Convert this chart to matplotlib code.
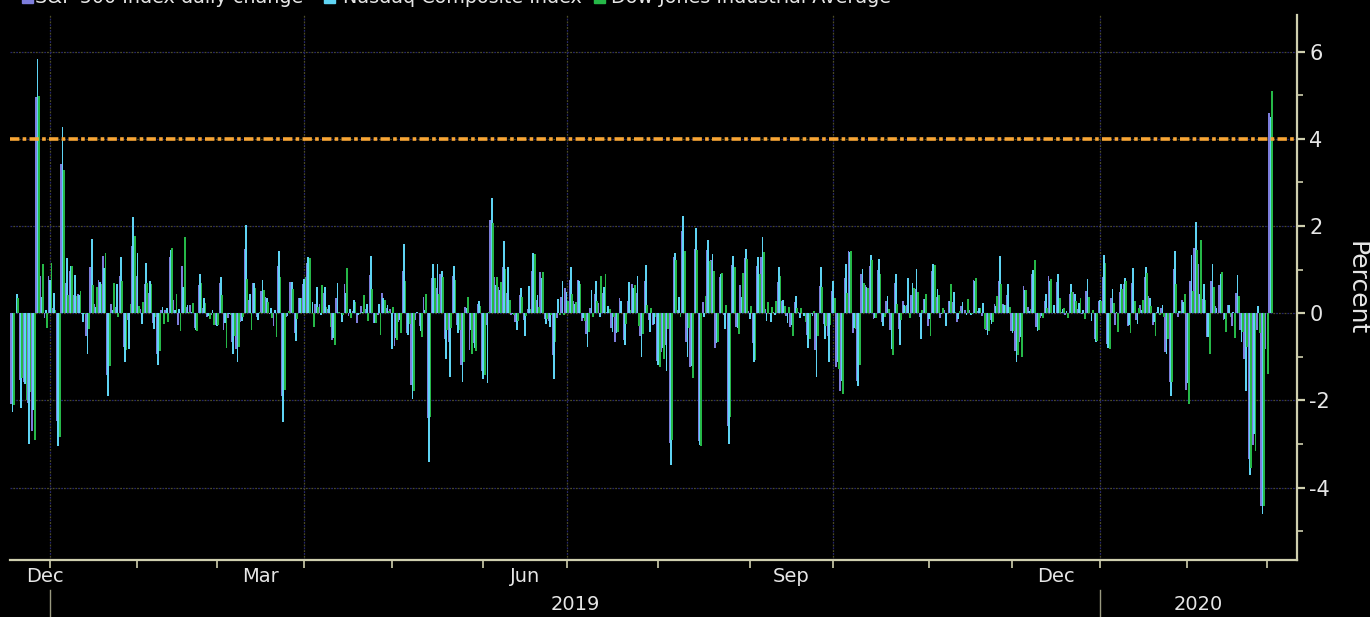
#!/usr/bin/env python3
"""Daily % change of S&P 500, Nasdaq Composite and Dow, Dec 2018 - Mar 2020 (Bloomberg-style)."""

import matplotlib

matplotlib.use("Agg")
import matplotlib.pyplot as plt
import matplotlib.transforms as mtransforms
from matplotlib.patches import Rectangle
import numpy as np
import pandas as pd

START = "2018-12-17"
END = "2020-03-02"
HOLIDAYS = [
    "2018-12-25", "2019-01-01", "2019-01-21", "2019-02-18", "2019-04-19",
    "2019-05-27", "2019-07-04", "2019-09-02", "2019-11-28", "2019-12-25",
    "2020-01-01", "2020-01-20", "2020-02-17",
]

# daily % change, one line per month
SPX = [
    -2.08, 0.01, -1.54, -1.58, -2.06, -2.71, 4.96, 0.86, -0.12, 0.85,
    0.13, -2.48, 3.43, 0.70, 0.97, 0.41, 0.45, -0.01, -0.53, 1.07, 0.22, 0.76, 1.32, -1.42, 0.22, 0.14, 0.85, -0.78, -0.15, 1.55, 0.86,
    0.09, 0.68, 0.47, -0.22, -0.94, 0.07, 0.07, 1.29, 0.30, -0.27, 1.09, 0.15, 0.18, -0.35, 0.64, 0.12, -0.08, -0.05, -0.28,
    0.69, -0.39, -0.11, -0.65, -0.81, -0.21, 1.47, 0.30, 0.69, -0.09, 0.50, 0.37, -0.01, -0.29, 1.09, -1.90, -0.08, 0.72, -0.46, 0.36, 0.67,
    1.16, 0.00, 0.21, 0.21, 0.46, 0.10, -0.61, 0.35, 0.00, 0.66, -0.06, 0.05, -0.23, 0.16, 0.10, 0.88, -0.22, -0.04, 0.47, 0.11, 0.10,
    -0.75, -0.21, 0.96, -0.45, -1.65, -0.16, -0.30, 0.37, -2.41, 0.80, 0.58, 0.89, -0.58, -0.67, 0.85, -0.28, -1.19, 0.14, -0.84, -0.69, 0.21, -1.32,
    -0.28, 2.14, 0.82, 0.61, 1.05, 0.47, -0.03, -0.20, 0.41, -0.16, 0.09, 0.97, 0.30, 0.95, -0.13, -0.17, -0.95, -0.12, 0.38, 0.58,
    0.77, 0.29, 0.77, -0.18, -0.48, 0.12, 0.45, 0.23, 0.46, 0.02, -0.34, -0.65, 0.36, -0.62, 0.28, 0.68, 0.47, -0.53, 0.74, -0.16, -0.26, -1.09,
    -0.90, -0.73, -2.98, 1.30, 0.08, 1.88, -0.66, -1.23, 1.48, -2.93, 0.25, 1.44, 1.21, -0.79, 0.82, -0.05, -2.59, 1.10, -0.32, 0.65, 1.27, 0.06,
    -0.69, 1.08, 1.30, 0.09, -0.01, 0.03, 0.72, 0.29, -0.07, -0.31, 0.26, 0.03, 0.00, -0.49, -0.01, -0.84, 0.62, -0.24, -0.53, 0.50,
    -1.23, -1.79, 0.80, 1.42, -0.45, -1.56, 0.91, 0.64, 1.09, -0.14, 1.00, -0.20, 0.28, -0.39, 0.69, -0.36, 0.28, 0.19, 0.41, 0.56, -0.08, 0.33, -0.30,
    0.97, 0.37, -0.12, 0.07, 0.27, 0.26, -0.20, 0.16, 0.07, 0.08, 0.77, 0.05, -0.06, -0.38, -0.16, 0.22, 0.75, 0.22, 0.42, -0.40,
    -0.86, -0.66, 0.63, 0.15, 0.91, -0.32, -0.11, 0.29, 0.86, 0.01, 0.71, 0.03, -0.04, 0.45, 0.49, 0.09, -0.02, 0.51, 0.00, -0.58, 0.29,
    0.84, -0.71, 0.35, -0.28, 0.49, 0.67, -0.29, 0.70, -0.15, 0.19, 0.84, 0.39, -0.27, 0.03, 0.11, -0.90, -1.57, 1.01, -0.09, 0.31, -1.77,
    0.73, 1.50, 1.13, 0.33, -0.54, 0.73, 0.17, 0.65, -0.16, 0.18, -0.29, 0.47, -0.38, -1.05, -3.35, -3.03, -0.38, -4.42, -0.82,
    4.60,
]
NASDAQ = [
    -2.27, 0.45, -2.17, -1.63, -2.99, -2.21, 5.84, 0.38, 0.08, 0.77,
    0.46, -3.04, 4.26, 1.26, 1.08, 0.87, 0.42, -0.21, -0.94, 1.71, 0.15, 0.71, 1.03, -1.91, 0.08, 0.68, 1.29, -1.11, -0.81, 2.20, 1.37,
    -0.25, 1.15, 0.74, -0.36, -1.18, 0.14, 0.13, 1.46, 0.08, 0.09, 0.61, 0.19, 0.03, -0.39, 0.91, 0.36, -0.07, 0.07, -0.29,
    0.83, -0.23, -0.02, -0.93, -1.13, -0.18, 2.02, 0.44, 0.69, -0.16, 0.76, 0.34, 0.12, 0.07, 1.42, -2.50, -0.07, 0.71, -0.63, 0.34, 0.78,
    1.29, 0.25, 0.60, -0.05, 0.59, 0.19, -0.56, 0.69, -0.21, 0.46, 0.10, 0.30, -0.05, 0.02, 0.22, 1.32, -0.23, 0.21, 0.34, 0.19, -0.81,
    -0.57, -0.16, 1.58, -0.50, -1.96, 0.02, -0.41, 0.08, -3.41, 1.14, 1.13, 0.97, -1.04, -1.46, 1.08, -0.45, -1.58, 0.11, -0.39, -0.79, 0.27, -1.51,
    -1.61, 2.65, 0.64, 0.53, 1.66, 1.05, -0.01, -0.38, 0.57, -0.52, 0.62, 1.39, 0.42, 0.80, -0.24, -0.32, -1.51, 0.32, 0.73, 0.48,
    1.06, 0.22, 0.75, -0.10, -0.78, 0.54, 0.75, -0.08, 0.59, 0.17, -0.43, -0.46, 0.27, -0.74, 0.71, 0.58, 0.85, -1.00, 1.11, -0.44, -0.25, -1.19,
    -0.79, -1.32, -3.47, 1.39, 0.38, 2.24, -1.00, -1.20, 1.95, -3.02, -0.09, 1.67, 1.35, -0.68, 0.90, -0.36, -3.00, 1.32, -0.34, 0.38, 1.48, -0.13,
    -1.11, 1.30, 1.75, -0.17, -0.19, -0.04, 1.06, 0.30, -0.22, -0.28, 0.40, -0.11, -0.07, -0.80, -0.06, -1.46, 1.05, -0.58, -1.13, 0.75,
    -1.13, -1.56, 1.12, 1.40, -0.33, -1.67, 1.02, 0.60, 1.34, -0.10, 1.24, -0.30, 0.40, -0.83, 0.91, -0.73, 0.19, 0.81, 0.70, 1.01, -0.59, 0.33, -0.14,
    1.13, 0.56, -0.02, -0.29, 0.28, 0.48, -0.13, 0.26, -0.04, -0.04, 0.73, 0.11, 0.24, -0.51, -0.24, 0.16, 1.32, 0.18, 0.66, -0.46,
    -1.12, -0.55, 0.54, 0.05, 1.00, -0.40, -0.07, 0.44, 0.73, 0.20, 0.91, 0.10, 0.05, 0.67, 0.43, 0.24, 0.08, 0.78, -0.17, -0.67, 0.30,
    1.33, -0.79, 0.56, 0.02, 0.67, 0.81, -0.27, 1.04, -0.24, 0.08, 1.06, 0.34, -0.19, 0.14, 0.20, -0.93, -1.89, 1.43, 0.06, 0.26, -1.59,
    1.34, 2.10, 0.43, 0.67, -0.54, 1.13, 0.11, 0.90, -0.14, 0.20, 0.02, 0.87, -0.67, -1.79, -3.71, -2.77, 0.17, -4.61, 0.01,
    4.49,
]
DOW = [
    -2.11, 0.35, -1.49, -1.99, -1.81, -2.91, 4.98, 1.14, -0.33, 1.15,
    0.08, -2.83, 3.29, 0.42, 1.09, 0.39, 0.51, -0.02, -0.36, 0.65, 0.59, 0.67, 1.38, -1.22, 0.70, -0.09, 0.75, -0.84, 0.21, 1.77, 0.17,
    0.26, 0.70, 0.68, -0.08, -0.87, -0.25, -0.21, 1.49, 0.45, -0.41, 1.74, 0.03, 0.24, -0.40, 0.70, 0.23, -0.13, -0.28, -0.27,
    0.42, -0.79, -0.05, -0.52, -0.78, -0.09, 0.79, -0.38, 0.58, 0.03, 0.54, 0.25, -0.10, -0.55, 0.84, -1.77, 0.06, 0.55, -0.13, 0.36, 0.82,
    1.27, -0.32, 0.15, 0.64, 0.15, -0.32, -0.72, 0.03, -0.05, 1.03, -0.10, 0.26, -0.01, 0.42, -0.18, 0.55, -0.22, -0.51, 0.31, 0.04, 0.15,
    -0.61, -0.46, 0.75, -0.25, -1.79, 0.01, -0.54, 0.44, -2.38, 0.81, 0.45, 0.84, -0.38, -0.33, 0.77, -0.39, -1.11, 0.37, -0.93, -0.87, 0.17, -1.41,
    0.02, 2.06, 0.82, 0.71, 1.02, 0.30, -0.05, -0.17, 0.38, -0.07, 0.09, 1.35, 0.15, 0.94, -0.13, -0.03, -0.67, -0.04, -0.04, 0.28,
    0.44, 0.26, 0.67, -0.17, -0.43, -0.08, 0.29, 0.85, 0.90, 0.10, -0.09, -0.42, 0.01, -0.25, 0.07, 0.65, -0.29, -0.47, 0.19, 0.11, -0.09, -1.23,
    -1.05, -0.37, -2.90, 1.21, -0.09, 1.43, -0.34, -1.48, 1.44, -3.05, 0.39, 1.20, 0.96, -0.66, 0.93, 0.19, -2.37, 1.05, -0.47, 0.93, 1.25, 0.16,
    -1.08, 0.91, 1.41, 0.26, 0.14, 0.27, 0.85, 0.17, 0.14, -0.52, 0.13, 0.13, -0.19, -0.59, 0.06, -0.53, 0.61, -0.30, -0.26, 0.36,
    -1.28, -1.86, 0.47, 1.42, -0.36, -1.19, 0.70, 0.57, 1.21, -0.11, 0.89, -0.08, 0.09, -0.95, 0.21, -0.15, 0.17, -0.11, 0.57, 0.49, 0.07, 0.43, -0.52,
    1.11, 0.42, 0.11, 0.00, 0.66, 0.02, 0.04, 0.00, 0.33, -0.01, 0.80, 0.11, -0.36, -0.40, -0.20, 0.39, 0.68, 0.20, 0.15, -0.40,
    -0.96, -1.01, 0.53, 0.10, 1.22, -0.38, -0.10, 0.11, 0.79, 0.01, 0.36, 0.11, -0.10, 0.49, 0.28, 0.34, -0.13, 0.37, 0.08, -0.64, 0.27,
    1.16, -0.81, 0.24, -0.42, 0.56, 0.74, -0.46, 0.29, 0.11, 0.31, 0.92, 0.17, -0.52, -0.03, -0.09, -0.58, -1.57, 0.66, 0.04, 0.43, -2.09,
    0.51, 1.44, 1.68, 0.30, -0.94, 0.60, -0.00, 0.94, -0.43, -0.09, -0.56, 0.40, -0.44, -0.78, -3.56, -3.15, -0.46, -4.42, -1.39,
    5.09,
]

SERIES = [
    ("S&P 500 Index daily change", SPX, "#7d7ddc"),
    ("Nasdaq Composite Index", NASDAQ, "#5fd4f4"),
    ("Dow Jones Industrial Average", DOW, "#26b848"),
]
THRESHOLD = 4.0
MONTH_LABELS = {(2018, 12): "Dec", (2019, 3): "Mar", (2019, 6): "Jun",
                (2019, 9): "Sep", (2019, 12): "Dec"}

FG = "#e6e6e6"
AXIS = "#cfcfae"
GRID_A = "#26266a"
GRID_B = "#4e4e26"


def main() -> None:
    dates = pd.bdate_range(START, END, freq="C", holidays=HOLIDAYS)
    n = len(dates)
    x = np.arange(n)

    fig = plt.figure(figsize=(13.7, 6.17), dpi=100, facecolor="black")
    W, H = 1370.0, 617.0
    left, right, top, bottom = 10, 1297, 15, 560
    ax = fig.add_axes([left / W, 1 - bottom / H, (right - left) / W, (bottom - top) / H],
                      facecolor="black")

    w = 1.0 / 3.0
    for k, (name, vals, color) in enumerate(SERIES):
        ax.bar(x + (k - 1) * w, vals[:n], width=w * 1.25, color=color, linewidth=0, zorder=3)

    # month boundaries in trading-day index space
    periods = dates.to_period("M")
    firsts = [i for i in range(1, n) if periods[i] != periods[i - 1]]
    bounds = [f - 1 for f in firsts]

    ax.set_xlim(-0.6, 308.3)
    ax.set_ylim(-5.66, 6.84)

    # dotted two-tone grid
    for yv in [-4, -2, 0, 2, 4, 6]:
        ax.axhline(yv, color=GRID_A, lw=0.9, ls=(0, (1.5, 3)), zorder=1)
        ax.axhline(yv, color=GRID_B, lw=0.9, ls=(2.25, (1.5, 3)), zorder=1)
    for f, b in zip(firsts, bounds):
        if dates[f].month in (1, 4, 7, 10):
            ax.axvline(b, color=GRID_A, lw=0.9, ls=(0, (1.5, 3)), zorder=1)
            ax.axvline(b, color=GRID_B, lw=0.9, ls=(2.25, (1.5, 3)), zorder=1)

    ax.axhline(THRESHOLD, color="#f7a535", lw=2.6, ls=(0, (2.6, 0.9, 1.0, 0.9)), zorder=4)

    for side in ("top", "left"):
        ax.spines[side].set_visible(False)
    for side in ("bottom", "right"):
        ax.spines[side].set_color(AXIS)
        ax.spines[side].set_linewidth(1.6)

    ax.yaxis.tick_right()
    ax.set_yticks([-4, -2, 0, 2, 4, 6])
    ax.set_yticks([-5, -3, -1, 1, 3, 5], minor=True)
    ax.set_yticklabels(["-4", "-2", "0", "2", "4", "6"])
    ax.tick_params(axis="y", which="major", colors=AXIS, length=6, width=1.6,
                   labelcolor=FG, labelsize=15, pad=3)
    ax.tick_params(axis="y", which="minor", colors=AXIS, length=4, width=1.2)

    ax.set_xticks(bounds)
    ax.set_xticklabels([])
    ax.tick_params(axis="x", which="major", colors=AXIS, length=6, width=1.2)

    trans = mtransforms.blended_transform_factory(ax.transData, ax.transAxes)
    px = 1.0 / (bottom - top)

    # month labels at mid-month
    edges = [-1] + bounds + [n - 1]
    for i in range(len(edges) - 1):
        a, b = edges[i], edges[i + 1]
        d = dates[min(a + 1, n - 1)]
        label = MONTH_LABELS.get((d.year, d.month))
        if label is None:
            continue
        xc = (max(a, 3.5) + b) / 2 + 1.6 if a < 0 else (a + b) / 2
        ax.text(xc, -17 * px, label, transform=trans, ha="center", va="center",
                color=FG, fontsize=14, clip_on=False)

    # year labels and separators
    jan = [b for f, b in zip(firsts, bounds) if dates[f].month == 1]
    ax.text((jan[0] + jan[1]) / 2, -45 * px, "2019", transform=trans, ha="center",
            va="center", color=FG, fontsize=14, clip_on=False)
    ax.text((jan[1] + ax.get_xlim()[1]) / 2, -45 * px, "2020", transform=trans,
            ha="center", va="center", color=FG, fontsize=14, clip_on=False)
    for b in jan:
        ax.plot([b, b], [-30 * px, -60 * px], transform=trans, color="#9a9a80",
                lw=1.0, clip_on=False)

    fig.text(1356 / W, 1 - 288 / H, "Percent", rotation=270, ha="center", va="center",
             color=FG, fontsize=18)

    # legend row, clipped by the top edge as in the source screenshot
    legend_x = [(22, 35), (324, 343), (594, 611)]
    for (sx, tx), (name, _, color) in zip(legend_x, SERIES):
        fig.patches.append(Rectangle((sx / W, 1 - 3 / H), 11 / W, 10 / H,
                                     transform=fig.transFigure, color=color))
        fig.text(tx / W, 1 - 3 / H, name, ha="left", va="baseline", color=FG,
                 fontsize=13.8)

    fig.savefig("out.png", dpi=100, facecolor="black")
    plt.close(fig)


if __name__ == "__main__":
    main()
